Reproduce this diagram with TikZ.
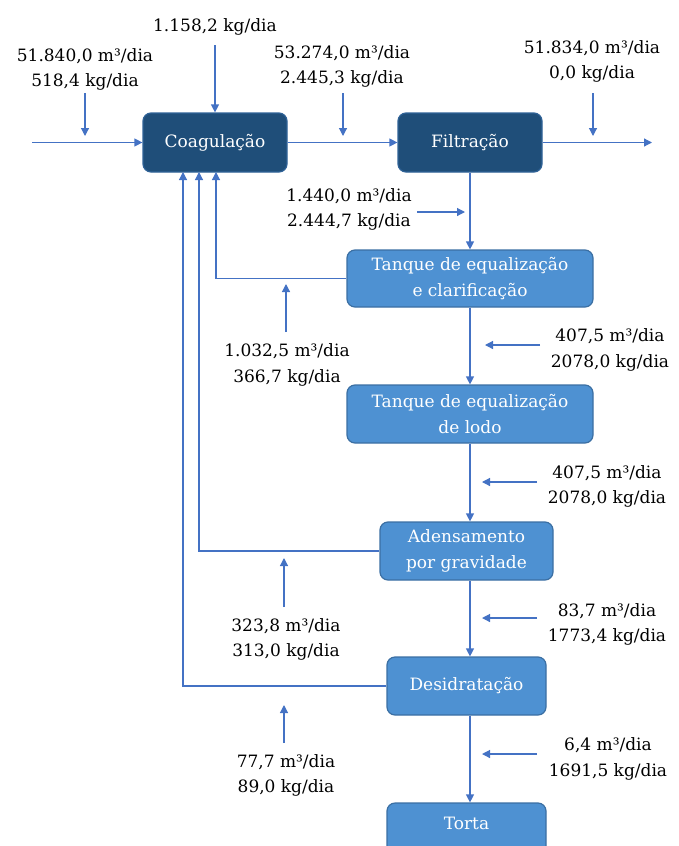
\documentclass[tikz,border=0pt]{standalone}
\usepackage{fontspec}
\setmainfont{DejaVu Serif}
\usetikzlibrary{arrows.meta}
\definecolor{darkbox}{HTML}{1F4E79}
\definecolor{darkedge}{HTML}{2F6297}
\definecolor{lightbox}{HTML}{4E91D2}
\definecolor{lightedge}{HTML}{3B6FA3}
\definecolor{arr}{HTML}{4472C4}
\begin{document}
\begin{tikzpicture}[x=1pt,y=-1pt,
  every node/.style={font=\fontsize{17}{25.5}\selectfont},
  dbox/.style={draw=darkedge,line width=1.2pt,fill=darkbox,text=white,rounded corners=8pt,minimum height=59pt,inner sep=0pt,align=center},
  lbox/.style={draw=lightedge,line width=1.2pt,fill=lightbox,text=white,rounded corners=8pt,minimum height=58pt,inner sep=0pt,align=center},
  lbl/.style={align=center,inner sep=0pt,text=black},
  flow/.style={draw=arr,line width=1.2pt,-{Triangle[length=8pt,width=8pt]}},
  plain/.style={draw=arr,line width=1.2pt}]
\useasboundingbox (0,0) rectangle (678,846);
% boxes
\node[dbox,minimum width=144pt] (coag) at (215,142.5) {Coagulação};
\node[dbox,minimum width=144pt] (filt) at (470,142.5) {Filtração};
\node[lbox,minimum width=246pt,minimum height=57pt] (tq1) at (470,278.5) {Tanque de equalização\\e clarificação};
\node[lbox,minimum width=246pt] (tq2) at (470,414) {Tanque de equalização\\de lodo};
\node[lbox,minimum width=173pt] (aden) at (466.5,551) {Adensamento\\por gravidade};
\node[lbox,minimum width=159pt] (desid) at (466.5,686) {Desidratação};
\node[lbox,minimum width=159pt,minimum height=56pt] (torta) at (466.5,831) {};
\node[text=white,inner sep=0pt] (tortatxt) at (466.5,823) {Torta};
% labels
\node[lbl] (l1) at (85,69.5) {51.840,0 m³/dia\\518,4 kg/dia};
\node[lbl] (l2) at (215,27) {1.158,2 kg/dia};
\node[lbl] (l3) at (342,66.5) {53.274,0 m³/dia\\2.445,3 kg/dia};
\node[lbl] (l4) at (592,61.5) {51.834,0 m³/dia\\0,0 kg/dia};
\node[lbl] (l5) at (349,209.5) {1.440,0 m³/dia\\2.444,7 kg/dia};
\node[lbl] (l6) at (287,365) {1.032,5 m³/dia\\366,7 kg/dia};
\node[lbl] (l7) at (610,350) {407,5 m³/dia\\2078,0 kg/dia};
\node[lbl] (l8) at (607,486.5) {407,5 m³/dia\\2078,0 kg/dia};
\node[lbl] (l9) at (607,624.5) {83,7 m³/dia\\1773,4 kg/dia};
\node[lbl] (l10) at (286,639.5) {323,8 m³/dia\\313,0 kg/dia};
\node[lbl] (l11) at (286,775.5) {77,7 m³/dia\\89,0 kg/dia};
\node[lbl] (l12) at (608,759) {6,4 m³/dia\\1691,5 kg/dia};
% coordinates
\coordinate (in) at (32,142.5);
\coordinate (out) at (652,142.5);
\coordinate (a1s) at (85,93);   \coordinate (a1e) at (85,136);
\coordinate (a2s) at (215,45);
\coordinate (a3s) at (343,93);  \coordinate (a3e) at (343,136);
\coordinate (a4s) at (593,93);  \coordinate (a4e) at (593,136);
\coordinate (a5s) at (417,212); \coordinate (a5e) at (465,212);
\coordinate (a6s) at (286,332); \coordinate (a6e) at (286,284);
\coordinate (a7s) at (540,345); \coordinate (a7e) at (485,345);
\coordinate (a8s) at (537,482); \coordinate (a8e) at (482,482);
\coordinate (a9s) at (537,618); \coordinate (a9e) at (482,618);
\coordinate (a10s) at (284,607); \coordinate (a10e) at (284,558);
\coordinate (a11s) at (284,743); \coordinate (a11e) at (284,705);
\coordinate (a12s) at (537,754); \coordinate (a12e) at (482,754);
\coordinate (r1) at (216,278.5); \coordinate (r1t) at (216,172);
\coordinate (r2) at (199,551);   \coordinate (r2t) at (199,172);
\coordinate (r3) at (183,686);   \coordinate (r3t) at (183,172);
% main flow
\draw[flow] (in) -- (coag.west);
\draw[flow] (coag.east) -- (filt.west);
\draw[flow] (filt.east) -- (out);
\draw[flow] (filt.south -| tq1.north) -- (tq1.north);
\draw[flow] (tq1.south) -- (tq2.north);
\draw[flow] (tq2.south) -- (tq2.south |- aden.north);
\draw[flow] (tq2.south |- aden.south) -- (tq2.south |- desid.north);
\draw[flow] (tq2.south |- desid.south) -- (tq2.south |- torta.north);
% returns
\draw[flow] (tq1.west) -- (r1) -- (r1t);
\draw[flow] (aden.west) -- (r2) -- (r2t);
\draw[flow] (desid.west) -- (r3) -- (r3t);
% small stream arrows
\draw[flow] (a1s) -- (a1e);
\draw[flow] (a2s) -- (coag.north);
\draw[flow] (a3s) -- (a3e);
\draw[flow] (a4s) -- (a4e);
\draw[flow] (a5s) -- (a5e);
\draw[flow] (a6s) -- (a6e);
\draw[flow] (a7s) -- (a7e);
\draw[flow] (a8s) -- (a8e);
\draw[flow] (a9s) -- (a9e);
\draw[flow] (a10s) -- (a10e);
\draw[flow] (a11s) -- (a11e);
\draw[flow] (a12s) -- (a12e);
\end{tikzpicture}
\end{document}
